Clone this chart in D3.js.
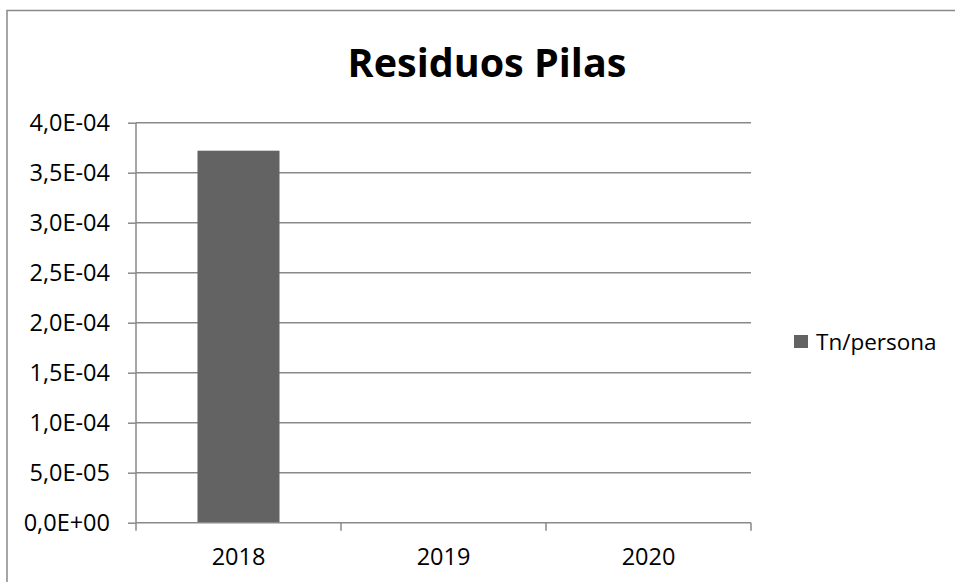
<!DOCTYPE html>
<html>
<head>
<meta charset="utf-8">
<script src="https://cdn.jsdelivr.net/npm/d3@7"></script>
<style>
html,body{margin:0;padding:0;background:#fff;}
svg{display:block;}
text{font-family:"Open Sans",sans-serif;fill:#000;}
</style>
</head>
<body>
<svg id="chart" width="955" height="582"></svg>
<script>
const categories = ["2018", "2019", "2020"];
const values = [3.72e-4, null, null];
const yTicks = [0, 5e-5, 1e-4, 1.5e-4, 2e-4, 2.5e-4, 3e-4, 3.5e-4, 4e-4];
const yTickLabels = ["0,0E+00","5,0E-05","1,0E-04","1,5E-04","2,0E-04","2,5E-04","3,0E-04","3,5E-04","4,0E-04"];
const seriesName = "Tn/persona";
const title = "Residuos Pilas";

(function () {
const svg = d3.select("#chart");
const gridColor = "#898989";

// outer chart border (extends beyond the viewport on right/bottom)
svg.append("rect").attr("x", 7).attr("y", 10.5).attr("width", 1000).attr("height", 1000)
  .attr("fill", "none").attr("stroke", gridColor).attr("stroke-width", 1.5);

const pL = 136, pR = 751, pT = 122.7, pB = 522.7;
const x = d3.scaleBand().domain(categories).range([pL, pR]).paddingInner(0).paddingOuter(0);
const y = d3.scaleLinear().domain([0, 4e-4]).range([pB, pT]);

// gridlines
svg.append("g").selectAll("line").data(yTicks.slice(1)).join("line")
  .attr("x1", pL).attr("x2", pR)
  .attr("y1", d => y(d)).attr("y2", d => y(d))
  .attr("stroke", gridColor).attr("stroke-width", 1.5);

// bars
const barW = x.bandwidth() * 0.4;
svg.append("g").selectAll("rect").data(categories.map((c, i) => ({c, v: values[i]})).filter(d => d.v != null)).join("rect")
  .attr("x", d => x(d.c) + (x.bandwidth() - barW) / 2)
  .attr("width", barW)
  .attr("y", d => y(d.v))
  .attr("height", d => y(0) - y(d.v))
  .attr("fill", "#636363");

// y axis
const yAxis = d3.axisLeft(y).tickValues(yTicks).tickFormat((d, i) => yTickLabels[i]).tickSize(8).tickPadding(18);
const gy = svg.append("g").attr("transform", `translate(${pL},0)`).call(yAxis);
gy.select(".domain").attr("stroke", gridColor).attr("stroke-width", 1.5).attr("d", `M0,${pT}V${pB}`);
gy.selectAll(".tick line").attr("stroke", gridColor).attr("stroke-width", 1.5);
gy.selectAll(".tick text").attr("font-family", "Open Sans").attr("font-size", 23.5).attr("fill", "#000").attr("dy", "0.35em");

// x axis
const xAxis = d3.axisBottom(x).tickSize(0).tickPadding(0);
const gx = svg.append("g").attr("transform", `translate(0,${pB})`).call(xAxis);
gx.select(".domain").attr("stroke", gridColor).attr("stroke-width", 1.5).attr("d", `M${pL},0H${pR}`);
gx.selectAll(".tick text").attr("font-family", "Open Sans").attr("font-size", 23.5).attr("fill", "#000").attr("dy", 0).attr("y", 42.5);
// category boundary ticks
const bounds = categories.map(c => x(c)).concat([x(categories[categories.length-1]) + x.bandwidth()]);
gx.append("g").selectAll("line").data(bounds).join("line")
  .attr("x1", d => d).attr("x2", d => d).attr("y1", 0).attr("y2", 8)
  .attr("stroke", gridColor).attr("stroke-width", 1.5);

// title
svg.append("text").attr("x", 487).attr("y", 76.5).attr("text-anchor", "middle")
  .attr("font-size", 39.5).attr("font-weight", "bold").text(title);

// legend
svg.append("rect").attr("x", 794).attr("y", 335).attr("width", 14).attr("height", 13).attr("fill", "#636363");
svg.append("text").attr("x", 816).attr("y", 349.5).attr("font-size", 22.5).text(seriesName);
})();
</script>
</body>
</html>
